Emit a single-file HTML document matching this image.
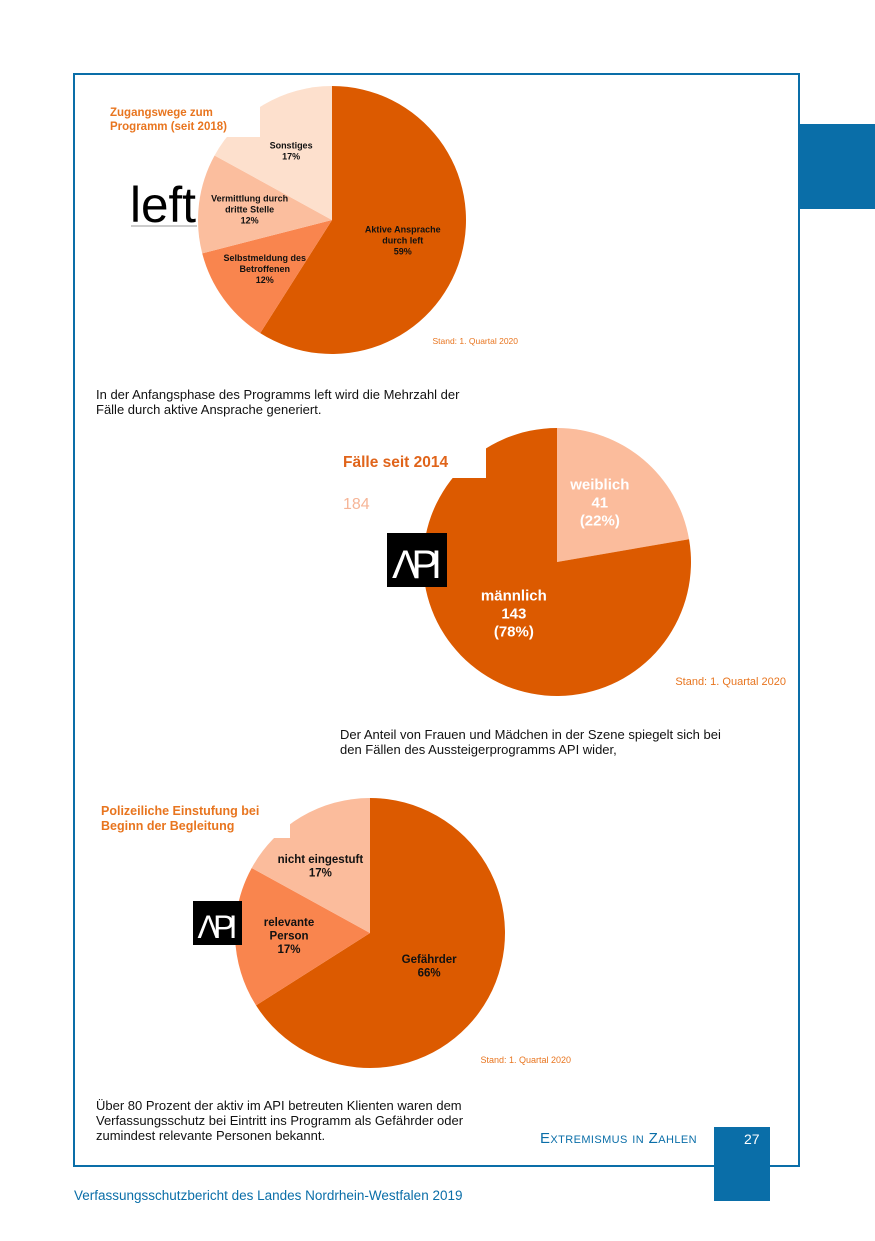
<!DOCTYPE html>
<html><head><meta charset="utf-8">
<style>
body{margin:0;background:#fff;}
#page{position:relative;width:875px;height:1241px;overflow:hidden;font-family:"Liberation Sans",sans-serif;background:#fff;}
.abs{position:absolute;}
.cap{font-size:13px;line-height:15px;color:#111;}
</style></head>
<body>
<div id="page">
<div class="abs" style="left:73px;top:73px;width:723px;height:1090px;border:2px solid #0a6ea8;"></div>
<div class="abs" style="left:799px;top:124px;width:76px;height:85px;background:#0a6ea8;"></div>
<svg class="abs" style="left:0;top:0" width="875" height="1241" id="svg"></svg>
<div class="abs cap" style="left:96px;top:387px;">In der Anfangsphase des Programms left wird die Mehrzahl der<br>Fälle durch aktive Ansprache generiert.</div>
<div class="abs cap" style="left:340px;top:727px;">Der Anteil von Frauen und Mädchen in der Szene spiegelt sich bei<br>den Fällen des Aussteigerprogramms API wider,</div>
<div class="abs cap" style="left:96px;top:1098px;">Über 80 Prozent der aktiv im API betreuten Klienten waren dem<br>Verfassungsschutz bei Eintritt ins Programm als Gefährder oder<br>zumindest relevante Personen bekannt.</div>
<div class="abs" style="left:540px;top:1130px;color:#0a6ea8;font-size:15px;font-variant:small-caps;letter-spacing:0.4px;">Extremismus in Zahlen</div>
<div class="abs" style="left:714px;top:1127px;width:56px;height:74px;background:#0a6ea8;"></div>
<div class="abs" style="left:744px;top:1131px;color:#fff;font-size:14px;">27</div>
<div class="abs" style="left:74px;top:1188px;color:#0a6ea8;font-size:13.5px;">Verfassungsschutzbericht des Landes Nordrhein-Westfalen 2019</div>
</div>
<script>
const NS="http://www.w3.org/2000/svg";
const svg=document.getElementById('svg');
// Chart 1
const c1Labels=[["Aktive Ansprache","durch left","59%"],["Selbstmeldung des","Betroffenen","12%"],["Vermittlung durch","dritte Stelle","12%"],["Sonstiges","17%"]];
const c1Values=[59,12,12,17];
// Chart 2
const c2Labels=[["weiblich","41","(22%)"],["männlich","143","(78%)"]];
const c2Values=[41,143];
// Chart 3
const c3Labels=[["Gefährder","66%"],["relevante","Person","17%"],["nicht eingestuft","17%"]];
const c3Values=[66,17,17];

function el(tag,attrs){const e=document.createElementNS(NS,tag);for(const k in attrs)e.setAttribute(k,attrs[k]);svg.appendChild(e);return e;}
function pie(cfg){
  const tot=cfg.values.reduce((a,b)=>a+b,0);let a0=0;
  cfg.values.forEach((v,i)=>{
    const a1=a0+v/tot*2*Math.PI;
    const x0=cfg.cx+cfg.r*Math.sin(a0),y0=cfg.cy-cfg.r*Math.cos(a0);
    const x1=cfg.cx+cfg.r*Math.sin(a1),y1=cfg.cy-cfg.r*Math.cos(a1);
    const p=el('path',{d:`M${cfg.cx},${cfg.cy}L${x0},${y0}A${cfg.r},${cfg.r} 0 ${a1-a0>Math.PI?1:0} 1 ${x1},${y1}Z`,fill:cfg.colors[i]});
    
    
    const am=(a0+a1)/2+(cfg.da?cfg.da[i]:0),lr=cfg.r*cfg.lf[i];
    const lx=cfg.cx+lr*Math.sin(am),ly=cfg.cy-lr*Math.cos(am);
    const lines=cfg.labels[i];
    const t=el('text',{x:lx,y:ly-(lines.length-1)*cfg.lh/2+cfg.fs*0.35,'text-anchor':'middle','font-size':cfg.fs,'font-weight':'bold',fill:cfg.tcol[i],'font-family':'Liberation Sans, sans-serif'});
    
    
    lines.forEach((s,j)=>{const ts=document.createElementNS(NS,'tspan');ts.setAttribute('x',lx);ts.setAttribute('dy',j?cfg.lh:0);ts.textContent=s;t.appendChild(ts);});
    a0=a1;
  });
}
function txt(x,y,s,fs,col,name,bold,anchor){const t=el('text',{x:x,y:y,'font-size':fs,fill:col,'font-weight':bold?'bold':'normal','font-family':'Liberation Sans, sans-serif','text-anchor':anchor||'start'});t.textContent=s;return t;}
function rect(x,y,w,h,f,name){const r=el('rect',{x:x,y:y,width:w,height:h,fill:f});}

pie({name:'chart1',cx:332,cy:220,r:134,values:c1Values,labels:c1Labels,colors:['#dc5a00','#f9854e','#fbbe9e','#fde0cd'],lf:[0.55,0.62,0.62,0.6],fs:9,lh:11,tcol:['#111','#111','#111','#111']});
rect(100,80,160,57,'#fff','chart1-title-notch');
txt(110,116,'Zugangswege zum',11.5,'#e8751f','chart1-title',true);
txt(110,130,'Programm (seit 2018)',11.5,'#e8751f','chart1-title',true);
rect(128,180,70,50,'#fff','left-logo-bg');
const lg=txt(130,222,'left',50,'#000','left-logo',false);
lg.setAttribute('textLength','66');lg.setAttribute('lengthAdjust','spacingAndGlyphs');
rect(131,225,66,2,'#ccc','left-logo-subtitle');
txt(518,344,'Stand: 1. Quartal 2020',8.5,'#e8751f','chart1-stand',false,'end');

pie({name:'chart2',cx:557,cy:562,r:134,values:c2Values,labels:c2Labels,colors:['#fbbc9c','#dc5a00'],lf:[0.55,0.5],da:[-0.08,0],fs:15,lh:18,tcol:['#fff','#fff']});
rect(330,420,156,58,'#fff','chart2-title-notch');
txt(343,467,'Fälle seit 2014',15.5,'#e0641a','chart2-title',true);
txt(343,509,'184',16,'#f6b597','chart2-total',false);
rect(387,533,60,54,'#000','api-logo-2');
txt(417,578,'ΛPI',40,'#fff','api-logo-2-text',false,'middle').setAttribute('textLength','50');
txt(786,685,'Stand: 1. Quartal 2020',11,'#e8751f','chart2-stand',false,'end');

pie({name:'chart3',cx:370,cy:933,r:135,values:c3Values,labels:c3Labels,colors:['#dc5a00','#f9854e','#fbbc9c'],lf:[0.5,0.6,0.62],da:[0,0,-0.1],fs:11.5,lh:13.5,tcol:['#111','#111','#111']});
rect(95,790,195,48,'#fff','chart3-title-notch');
txt(101,815,'Polizeiliche Einstufung bei',12.5,'#e8751f','chart3-title',true);
txt(101,830,'Beginn der Begleitung',12.5,'#e8751f','chart3-title',true);
rect(193,901,49,44,'#000','api-logo-3');
txt(217.5,938,'ΛPI',32,'#fff','api-logo-3-text',false,'middle').setAttribute('textLength','40');
txt(571,1063,'Stand: 1. Quartal 2020',9,'#e8751f','chart3-stand',false,'end');
</script>
</body></html>
